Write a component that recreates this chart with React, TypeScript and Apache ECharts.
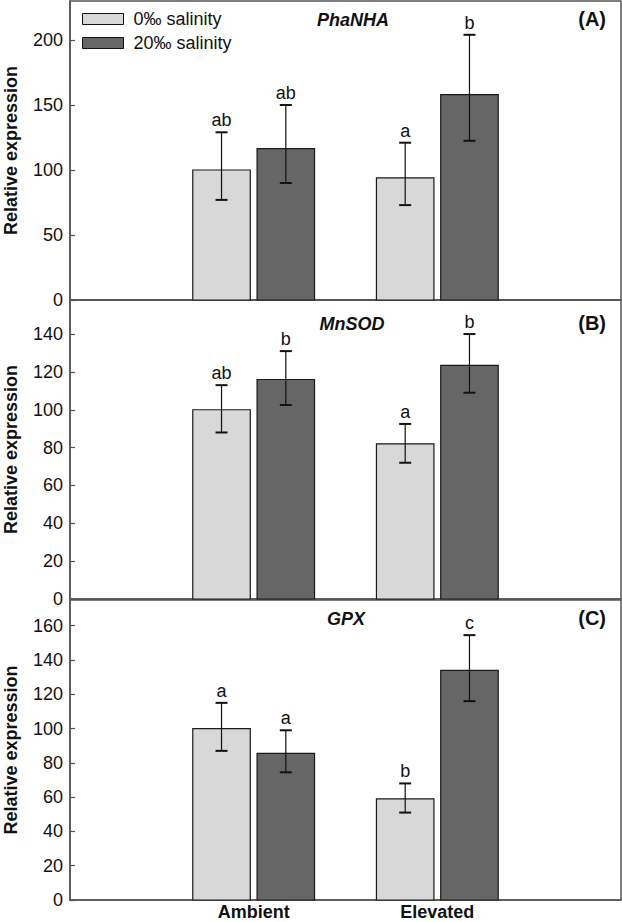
import React, { useEffect, useRef } from "react";
import * as echarts from "echarts";

const categories = ["", "Ambient", "Elevated", ""];
const seriesNames = ["0‰ salinity", "20‰ salinity"];
const genes = ["PhaNHA", "MnSOD", "GPX"];
const panelTags = ["(A)", "(B)", "(C)"];

// PhaNHA
const phaMean0 = [100, 94];
const phaLow0 = [77, 73];
const phaHigh0 = [129, 121];
const phaLetters0 = ["ab", "a"];
const phaMean20 = [116.5, 158];
const phaLow20 = [90, 122.5];
const phaHigh20 = [150, 204];
const phaLetters20 = ["ab", "b"];

// MnSOD
const sodMean0 = [100, 82];
const sodLow0 = [88, 72];
const sodHigh0 = [113, 92.5];
const sodLetters0 = ["ab", "a"];
const sodMean20 = [116, 123.5];
const sodLow20 = [102.5, 109];
const sodHigh20 = [131, 140];
const sodLetters20 = ["b", "b"];

// GPX
const gpxMean0 = [100, 59];
const gpxLow0 = [87, 51];
const gpxHigh0 = [115, 68];
const gpxLetters0 = ["a", "b"];
const gpxMean20 = [85.5, 134];
const gpxLow20 = [74.5, 116];
const gpxHigh20 = [99, 154.5];
const gpxLetters20 = ["a", "c"];

const yMax = [230, 158, 175];
const yInterval = [50, 20, 20];

const panels = [
  [
    { mean: phaMean0, low: phaLow0, high: phaHigh0, letters: phaLetters0 },
    { mean: phaMean20, low: phaLow20, high: phaHigh20, letters: phaLetters20 },
  ],
  [
    { mean: sodMean0, low: sodLow0, high: sodHigh0, letters: sodLetters0 },
    { mean: sodMean20, low: sodLow20, high: sodHigh20, letters: sodLetters20 },
  ],
  [
    { mean: gpxMean0, low: gpxLow0, high: gpxHigh0, letters: gpxLetters0 },
    { mean: gpxMean20, low: gpxLow20, high: gpxHigh20, letters: gpxLetters20 },
  ],
];

const FONT = "'Liberation Sans', Arial, sans-serif";
const colors = ["#d8d8d8", "#666666"];
const frameColor = "#555555";

export default function App() {
  const ref = useRef<HTMLDivElement>(null);
  useEffect(() => {
    if (!ref.current) return;
    const chart = echarts.init(ref.current, undefined, { renderer: "svg" });

    const grids = [
      { left: 70, right: 1, top: 1, height: 299 },
      { left: 70, right: 1, top: 300, height: 299 },
      { left: 70, right: 1, top: 600, height: 300 },
    ].map((g) => ({
      ...g,
      show: true,
      containLabel: false,
      outerBoundsMode: "none",
      borderColor: frameColor,
      borderWidth: 1.5,
      backgroundColor: "transparent",
    }));

    const xAxes = [0, 1, 2].map((i) => ({
      type: "value",
      gridIndex: i,
      min: 0,
      max: 3,
      interval: 1,
      splitLine: { show: false },
      axisTick: { show: false },
      axisLine: { show: true, lineStyle: { color: frameColor, width: 1.5 } },
      axisLabel: {
        show: i === 2,
        margin: 3,
        fontFamily: FONT,
        fontSize: 18,
        lineHeight: 18,
        fontWeight: "bold",
        color: "#111",
        formatter: (v: number) => categories[Math.round(v)] ?? "",
      },
    }));

    const yAxes = [0, 1, 2].map((i) => ({
      type: "value",
      gridIndex: i,
      min: 0,
      max: yMax[i],
      interval: yInterval[i],
      name: "Relative expression",
      nameLocation: "middle",
      nameGap: 50,
      nameTextStyle: {
        fontFamily: FONT,
        fontSize: 18,
        fontWeight: "bold",
        color: "#111",
      },
      splitLine: { show: false },
      axisLine: { show: true, lineStyle: { color: frameColor, width: 1.5 } },
      axisTick: { show: true, inside: true, length: 5, lineStyle: { color: frameColor, width: 1.2 } },
      axisLabel: {
        margin: 7,
        fontFamily: FONT,
        fontSize: 18,
        color: "#111",
        showMaxLabel: false,
        formatter: (v: number) => (v % yInterval[i] === 0 ? String(v) : ""),
      },
    }));

    const series: any[] = [];
    panels.forEach((panel, pi) => {
      panel.forEach((grp, gi) => {
        const offset = gi === 0 ? -0.175 : 0.175;
        const data = grp.mean.map((m, k) => [k + 1, m, grp.low[k], grp.high[k]]);
        series.push({
          type: "custom",
          name: seriesNames[gi],
          xAxisIndex: pi,
          yAxisIndex: pi,
          itemStyle: { color: colors[gi] },
          encode: { x: 0, y: 1 },
          data,
          renderItem: (params: any, api: any) => {
            const xv = api.value(0);
            const mean = api.value(1);
            const low = api.value(2);
            const high = api.value(3);
            const unit = api.size([1, 0])[0];
            const base = api.coord([xv, 0]);
            const cx = base[0] + offset * unit;
            const y0 = base[1];
            const yTop = api.coord([xv, mean])[1];
            const yLow = api.coord([xv, low])[1];
            const yHigh = api.coord([xv, high])[1];
            const bw = 0.313 * unit;
            const cap = 6;
            return {
              type: "group",
              children: [
                {
                  type: "rect",
                  shape: { x: cx - bw / 2, y: yTop, width: bw, height: y0 - yTop },
                  style: { fill: colors[gi], stroke: "#1a1a1a", lineWidth: 1.2 },
                },
                {
                  type: "line",
                  shape: { x1: cx, y1: yLow, x2: cx, y2: yHigh },
                  style: { stroke: "#111", lineWidth: 1.2 },
                },
                {
                  type: "line",
                  shape: { x1: cx - cap, y1: yHigh, x2: cx + cap, y2: yHigh },
                  style: { stroke: "#111", lineWidth: 2 },
                },
                {
                  type: "line",
                  shape: { x1: cx - cap, y1: yLow, x2: cx + cap, y2: yLow },
                  style: { stroke: "#111", lineWidth: 2 },
                },
                {
                  type: "text",
                  x: cx,
                  y: yHigh - 3,
                  style: {
                    text: grp.letters[params.dataIndex],
                    fontFamily: FONT,
                    fontSize: 18,
                    fill: "#111",
                    align: "center",
                    verticalAlign: "bottom",
                  },
                },
              ],
            };
          },
        });
      });
    });

    const titleY = [20, 324, 619];
    const titleX = [353, 352, 346];
    const tagY = [19, 323, 618];
    const graphics: any[] = [];
    genes.forEach((g, i) => {
      graphics.push({
        type: "text",
        x: titleX[i],
        y: titleY[i],
        style: {
          text: g,
          fontFamily: FONT,
          fontSize: 18,
          fontWeight: "bold",
          fontStyle: "italic",
          fill: "#111",
          align: "center",
          verticalAlign: "middle",
        },
      });
      graphics.push({
        type: "text",
        x: 606,
        y: tagY[i],
        style: {
          text: panelTags[i],
          fontFamily: FONT,
          fontSize: 20,
          fontWeight: "bold",
          fill: "#111",
          align: "right",
          verticalAlign: "middle",
        },
      });
    });

    chart.setOption({
      animation: false,
      backgroundColor: "#fff",
      grid: grids,
      xAxis: xAxes,
      yAxis: yAxes,
      legend: {
        data: seriesNames,
        orient: "vertical",
        left: 82,
        top: 10,
        padding: 0,
        icon: "rect",
        itemWidth: 41,
        itemHeight: 11,
        itemGap: 6,
        itemStyle: { borderColor: "#111", borderWidth: 1 },
        textStyle: {
          fontFamily: FONT,
          fontSize: 18,
          color: "#111",
          lineHeight: 18,
          padding: [0, 0, 0, 5],
        },
        selectedMode: false,
      },
      series,
      graphic: graphics,
    });
    return () => chart.dispose();
  }, []);
  return (
    <div
      ref={ref}
      style={{ position: "absolute", left: 0, top: 0, width: 622, height: 922 }}
    />
  );
}
